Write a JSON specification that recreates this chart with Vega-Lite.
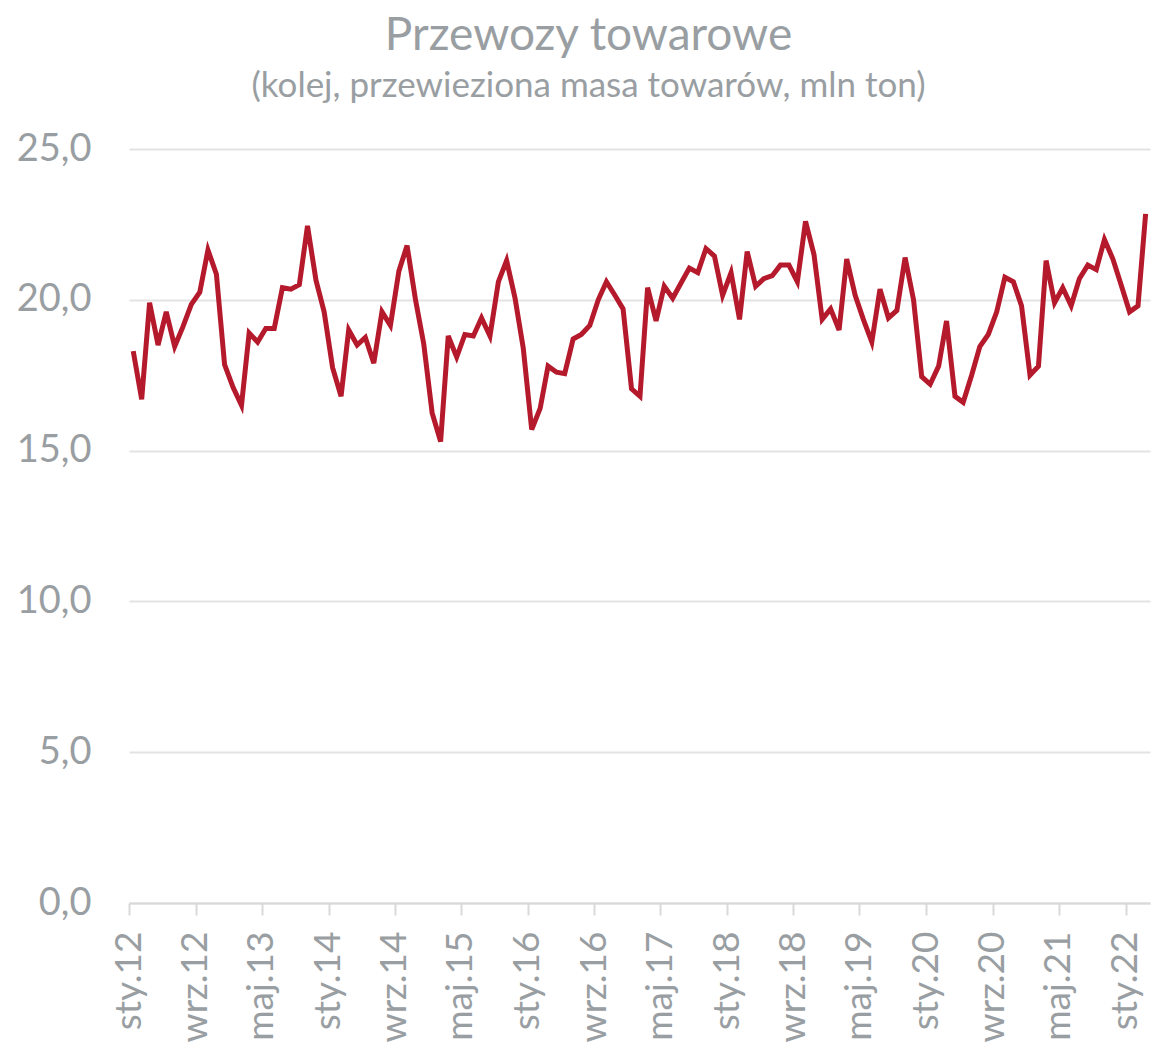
{
  "$schema": "https://vega.github.io/schema/vega-lite/v6.json",
  "autosize": "none",
  "width": 1021,
  "height": 754,
  "padding": {"left": 129, "top": 149, "right": 5, "bottom": 145},
  "background": "white",
  "config": {"view": {"stroke": null}, "font": "Lato"},
  "title": {
    "text": "Przewozy towarowe",
    "subtitle": "(kolej, przewieziona masa towarów, mln ton)",
    "anchor": "middle",
    "frame": "group",
    "dx": -51,
    "offset": 25,
    "font": "Lato",
    "fontSize": 46,
    "fontWeight": "normal",
    "color": "#999EA2",
    "subtitleFont": "Lato",
    "subtitleFontSize": 35,
    "subtitleColor": "#999EA2",
    "subtitlePadding": 9
  },
  "data": {
    "values": [
      {"date": "2012-01", "value": 18.3}, {"date": "2012-02", "value": 16.7}, {"date": "2012-03", "value": 19.9}, {"date": "2012-04", "value": 18.5}, {"date": "2012-05", "value": 19.6}, {"date": "2012-06", "value": 18.45}, {"date": "2012-07", "value": 19.1}, {"date": "2012-08", "value": 19.85}, {"date": "2012-09", "value": 20.25}, {"date": "2012-10", "value": 21.65}, {"date": "2012-11", "value": 20.85}, {"date": "2012-12", "value": 17.85},
      {"date": "2013-01", "value": 17.1}, {"date": "2013-02", "value": 16.5}, {"date": "2013-03", "value": 18.9}, {"date": "2013-04", "value": 18.6}, {"date": "2013-05", "value": 19.05}, {"date": "2013-06", "value": 19.05}, {"date": "2013-07", "value": 20.4}, {"date": "2013-08", "value": 20.35}, {"date": "2013-09", "value": 20.5}, {"date": "2013-10", "value": 22.45}, {"date": "2013-11", "value": 20.65}, {"date": "2013-12", "value": 19.6},
      {"date": "2014-01", "value": 17.75}, {"date": "2014-02", "value": 16.8}, {"date": "2014-03", "value": 19.0}, {"date": "2014-04", "value": 18.5}, {"date": "2014-05", "value": 18.75}, {"date": "2014-06", "value": 17.9}, {"date": "2014-07", "value": 19.6}, {"date": "2014-08", "value": 19.15}, {"date": "2014-09", "value": 20.95}, {"date": "2014-10", "value": 21.8}, {"date": "2014-11", "value": 20.0}, {"date": "2014-12", "value": 18.55},
      {"date": "2015-01", "value": 16.25}, {"date": "2015-02", "value": 15.3}, {"date": "2015-03", "value": 18.8}, {"date": "2015-04", "value": 18.1}, {"date": "2015-05", "value": 18.85}, {"date": "2015-06", "value": 18.8}, {"date": "2015-07", "value": 19.4}, {"date": "2015-08", "value": 18.8}, {"date": "2015-09", "value": 20.6}, {"date": "2015-10", "value": 21.3}, {"date": "2015-11", "value": 20.05}, {"date": "2015-12", "value": 18.4},
      {"date": "2016-01", "value": 15.7}, {"date": "2016-02", "value": 16.4}, {"date": "2016-03", "value": 17.8}, {"date": "2016-04", "value": 17.6}, {"date": "2016-05", "value": 17.55}, {"date": "2016-06", "value": 18.7}, {"date": "2016-07", "value": 18.85}, {"date": "2016-08", "value": 19.15}, {"date": "2016-09", "value": 20.0}, {"date": "2016-10", "value": 20.6}, {"date": "2016-11", "value": 20.15}, {"date": "2016-12", "value": 19.7},
      {"date": "2017-01", "value": 17.05}, {"date": "2017-02", "value": 16.8}, {"date": "2017-03", "value": 20.4}, {"date": "2017-04", "value": 19.3}, {"date": "2017-05", "value": 20.45}, {"date": "2017-06", "value": 20.05}, {"date": "2017-07", "value": 20.55}, {"date": "2017-08", "value": 21.05}, {"date": "2017-09", "value": 20.9}, {"date": "2017-10", "value": 21.7}, {"date": "2017-11", "value": 21.45}, {"date": "2017-12", "value": 20.15},
      {"date": "2018-01", "value": 20.9}, {"date": "2018-02", "value": 19.35}, {"date": "2018-03", "value": 21.6}, {"date": "2018-04", "value": 20.45}, {"date": "2018-05", "value": 20.7}, {"date": "2018-06", "value": 20.8}, {"date": "2018-07", "value": 21.15}, {"date": "2018-08", "value": 21.15}, {"date": "2018-09", "value": 20.6}, {"date": "2018-10", "value": 22.6}, {"date": "2018-11", "value": 21.5}, {"date": "2018-12", "value": 19.35},
      {"date": "2019-01", "value": 19.7}, {"date": "2019-02", "value": 19.0}, {"date": "2019-03", "value": 21.35}, {"date": "2019-04", "value": 20.15}, {"date": "2019-05", "value": 19.35}, {"date": "2019-06", "value": 18.6}, {"date": "2019-07", "value": 20.35}, {"date": "2019-08", "value": 19.4}, {"date": "2019-09", "value": 19.65}, {"date": "2019-10", "value": 21.4}, {"date": "2019-11", "value": 20.0}, {"date": "2019-12", "value": 17.45},
      {"date": "2020-01", "value": 17.2}, {"date": "2020-02", "value": 17.8}, {"date": "2020-03", "value": 19.3}, {"date": "2020-04", "value": 16.8}, {"date": "2020-05", "value": 16.6}, {"date": "2020-06", "value": 17.5}, {"date": "2020-07", "value": 18.45}, {"date": "2020-08", "value": 18.85}, {"date": "2020-09", "value": 19.6}, {"date": "2020-10", "value": 20.75}, {"date": "2020-11", "value": 20.6}, {"date": "2020-12", "value": 19.8},
      {"date": "2021-01", "value": 17.5}, {"date": "2021-02", "value": 17.8}, {"date": "2021-03", "value": 21.3}, {"date": "2021-04", "value": 19.9}, {"date": "2021-05", "value": 20.4}, {"date": "2021-06", "value": 19.8}, {"date": "2021-07", "value": 20.7}, {"date": "2021-08", "value": 21.15}, {"date": "2021-09", "value": 21.0}, {"date": "2021-10", "value": 22.0}, {"date": "2021-11", "value": 21.35}, {"date": "2021-12", "value": 20.5},
      {"date": "2022-01", "value": 19.6}, {"date": "2022-02", "value": 19.8}, {"date": "2022-03", "value": 22.85}
    ],
    "format": {"parse": {"date": "utc:'%Y-%m'"}}
  },
  "mark": {"type": "line", "color": "#B51A2C", "strokeWidth": 5, "strokeJoin": "miter", "strokeCap": "butt"},
  "encoding": {
    "x": {
      "field": "date",
      "type": "temporal",
      "scale": {
        "type": "utc",
        "domain": [
          {"year": 2011, "month": 12, "date": 16, "hours": 12, "utc": true},
          {"year": 2022, "month": 3, "date": 17, "utc": true}
        ]
      },
      "axis": {
        "title": null,
        "values": [
          {"year": 2012, "month": 1, "date": 1, "utc": true},
          {"year": 2012, "month": 9, "date": 1, "utc": true},
          {"year": 2013, "month": 5, "date": 1, "utc": true},
          {"year": 2014, "month": 1, "date": 1, "utc": true},
          {"year": 2014, "month": 9, "date": 1, "utc": true},
          {"year": 2015, "month": 5, "date": 1, "utc": true},
          {"year": 2016, "month": 1, "date": 1, "utc": true},
          {"year": 2016, "month": 9, "date": 1, "utc": true},
          {"year": 2017, "month": 5, "date": 1, "utc": true},
          {"year": 2018, "month": 1, "date": 1, "utc": true},
          {"year": 2018, "month": 9, "date": 1, "utc": true},
          {"year": 2019, "month": 5, "date": 1, "utc": true},
          {"year": 2020, "month": 1, "date": 1, "utc": true},
          {"year": 2020, "month": 9, "date": 1, "utc": true},
          {"year": 2021, "month": 5, "date": 1, "utc": true},
          {"year": 2022, "month": 1, "date": 1, "utc": true}
        ],
        "labelExpr": "['sty','lut','mar','kwi','maj','cze','lip','sie','wrz','paź','lis','gru'][utcmonth(datum.value)] + '.' + substring(toString(utcyear(datum.value)), 2)",
        "labelAngle": -90,
        "labelAlign": "right",
        "labelBaseline": "middle",
        "labelFont": "Lato",
        "labelFontSize": 37,
        "labelColor": "#999EA2",
        "labelPadding": 16,
        "labelOverlap": false,
        "labelFlush": false,
        "tickOffset": -4,
        "tickSize": 12,
        "tickWidth": 2,
        "tickColor": "#D9D9D9",
        "domainColor": "#D9D9D9",
        "domainWidth": 2,
        "grid": false
      }
    },
    "y": {
      "field": "value",
      "type": "quantitative",
      "scale": {"domain": [0, 25], "nice": false},
      "axis": {
        "title": null,
        "values": [0, 5, 10, 15, 20, 25],
        "labelExpr": "replace(format(datum.value, '.1f'), '.', ',')",
        "labelFont": "Lato",
        "labelFontSize": 38,
        "labelColor": "#999EA2",
        "labelPadding": 38,
        "ticks": false,
        "domain": false,
        "grid": true,
        "gridColor": "#E3E3E3",
        "gridWidth": 2
      }
    }
  }
}
